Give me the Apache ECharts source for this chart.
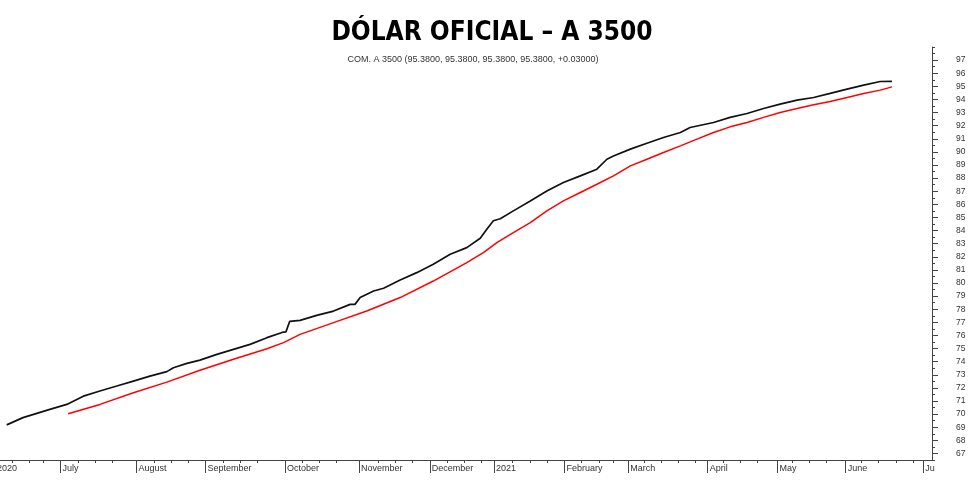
<!DOCTYPE html>
<html><head><meta charset="utf-8">
<script src="https://cdn.jsdelivr.net/npm/echarts@6/dist/echarts.min.js"></script>
<style>html,body{margin:0;padding:0;background:#fff}#c{width:980px;height:488px}</style>
</head><body><div id="c"></div>
<script>
const titleText = 'DÓLAR OFICIAL – A 3500';
const subText = 'COM. A 3500 (95.3800, 95.3800, 95.3800, 95.3800, +0.03000)';

// x axis unit: trading day counted from 1 June 2020
const monthTicks = [0, 19, 41, 61, 84, 105.5, 126, 144.6, 165, 183.5, 206.5, 226.7, 246.5, 269];
const monthLabels = ['2020', 'July', 'August', 'September', 'October', 'November', 'December', '2021', 'February', 'March', 'April', 'May', 'June', 'July'];
const weekTicks = [5, 10, 14, 24, 29, 34, 46, 51, 56, 66, 71, 76, 89, 94, 99, 111, 116, 121, 131, 136, 141, 150, 155, 160, 170, 175, 179, 188, 193, 198, 203, 211, 216, 221, 231, 236, 241, 251, 256, 261, 266];
const yTicks = [67, 68, 69, 70, 71, 72, 73, 74, 75, 76, 77, 78, 79, 80, 81, 82, 83, 84, 85, 86, 87, 88, 89, 90, 91, 92, 93, 94, 95, 96, 97];

const blackDays = [3.4, 8.1, 15.9, 20.8, 25.6, 30.4, 35.3, 40.1, 44.9, 49.8, 51.7, 55.6, 59.4, 64.3, 69.1, 73.9, 78.8, 83.6, 84.3, 85.4, 88.4, 93.2, 98.1, 102.9, 104.3, 105.8, 109.7, 112.6, 117.4, 122.2, 127.0, 131.9, 136.7, 140.6, 142.5, 144.4, 146.4, 150.2, 155.1, 159.9, 164.7, 169.6, 174.4, 177.3, 179.2, 184.1, 188.9, 193.7, 198.6, 201.4, 208.2, 213.0, 217.9, 222.7, 227.5, 232.4, 237.2, 242.0, 246.9, 251.7, 256.5, 259.9];
const blackVals = [69.18, 69.73, 70.36, 70.74, 71.37, 71.76, 72.14, 72.52, 72.90, 73.24, 73.54, 73.87, 74.12, 74.56, 74.94, 75.32, 75.83, 76.26, 76.27, 77.08, 77.15, 77.53, 77.86, 78.37, 78.37, 78.89, 79.39, 79.60, 80.23, 80.79, 81.43, 82.19, 82.70, 83.41, 84.10, 84.75, 84.90, 85.50, 86.26, 87.02, 87.66, 88.17, 88.68, 89.44, 89.69, 90.21, 90.66, 91.10, 91.48, 91.86, 92.24, 92.63, 92.93, 93.31, 93.64, 93.95, 94.15, 94.46, 94.79, 95.09, 95.37, 95.38];

const redDays = [21.2, 30.4, 40.1, 49.8, 59.4, 69.1, 78.8, 83.6, 88.4, 98.1, 107.7, 117.4, 127.0, 136.7, 141.5, 145.4, 150.2, 155.1, 159.9, 164.7, 169.6, 174.4, 179.2, 184.1, 188.9, 193.7, 198.6, 203.4, 208.2, 213.0, 217.9, 222.7, 227.5, 232.4, 237.2, 242.0, 246.9, 251.7, 256.5, 259.9];
const redVals = [70.03, 70.74, 71.63, 72.44, 73.34, 74.18, 74.99, 75.45, 76.08, 76.98, 77.86, 78.89, 80.15, 81.56, 82.32, 83.08, 83.85, 84.61, 85.50, 86.26, 86.90, 87.53, 88.17, 88.93, 89.44, 89.95, 90.46, 90.97, 91.48, 91.91, 92.24, 92.63, 93.01, 93.31, 93.59, 93.85, 94.15, 94.46, 94.71, 94.96];

const pairs = (xs, ys) => xs.map((x, i) => [x, ys[i]]);
const axisColor = '#444';
const labelFont = '"Liberation Sans", Arial, sans-serif';
const lastIdx = monthTicks.length - 1;
const labelFor = v => { const i = monthTicks.findIndex(m => Math.abs(m - v) < 1e-6); return i < 0 ? '' : monthLabels[i]; };

const chart = echarts.init(document.getElementById('c'), null, { renderer: 'canvas' });
chart.setOption({
  animation: false,
  backgroundColor: '#fff',
  title: [
    { text: titleText, left: 487, top: 15, textAlign: 'center',
      textStyle: { fontFamily: '"DejaVu Sans Condensed", "DejaVu Sans", sans-serif', fontWeight: 'bold', fontSize: 26, color: '#000' } },
    { text: subText, left: 468, top: 50, textAlign: 'center',
      textStyle: { fontFamily: labelFont, fontWeight: 'normal', fontSize: 9, color: '#333' } }
  ],
  grid: { left: -5, right: 48, top: 47, bottom: 28, outerBoundsMode: 'none', containLabel: false },
  xAxis: [
    { type: 'value', min: 0, max: 271.5, position: 'bottom',
      axisLine: { show: true, onZero: false, lineStyle: { color: axisColor, width: 1 } },
      splitLine: { show: false },
      axisTick: { show: true, customValues: monthTicks, length: 13, lineStyle: { color: axisColor } },
      axisLabel: { customValues: monthTicks.slice(0, lastIdx), align: 'left', margin: 4, padding: [0, 0, 0, 2],
        fontSize: 9, color: '#333', fontFamily: labelFont, formatter: labelFor, hideOverlap: false } },
    { type: 'value', min: 0, max: 271.5, position: 'bottom',
      axisLine: { show: false, onZero: false },
      splitLine: { show: false },
      axisLabel: { show: false },
      axisTick: { show: true, customValues: weekTicks, length: 3, lineStyle: { color: axisColor } } },
    { type: 'value', min: 0, max: 271.5, position: 'bottom',
      axisLine: { show: false, onZero: false },
      splitLine: { show: false },
      axisTick: { show: false },
      axisLabel: { customValues: [monthTicks[lastIdx]], align: 'left', margin: 4, padding: [0, 0, 0, 2],
        fontSize: 9, color: '#333', fontFamily: labelFont, formatter: labelFor,
        width: 12, overflow: 'truncate', ellipsis: '' } }
  ],
  yAxis: [
    { type: 'value', min: 66.5, max: 98, position: 'right',
      axisLine: { show: true, onZero: false, lineStyle: { color: axisColor, width: 1 } },
      splitLine: { show: false },
      axisTick: { show: true, customValues: yTicks, length: 6, lineStyle: { color: axisColor } },
      axisLabel: { customValues: yTicks, margin: 24, fontSize: 8.5, color: '#333', fontFamily: labelFont } },
    { type: 'value', min: 66.5, max: 98, interval: 0.5, position: 'right',
      axisLine: { show: false, onZero: false },
      splitLine: { show: false },
      axisLabel: { show: false },
      axisTick: { show: true, length: 3, lineStyle: { color: axisColor } } }
  ],
  series: [
    { type: 'line', name: 'A 3500', data: pairs(blackDays, blackVals), symbol: 'none',
      xAxisIndex: 0, yAxisIndex: 0, lineStyle: { color: '#111', width: 1.7 } },
    { type: 'line', name: 'Media', data: pairs(redDays, redVals), symbol: 'none',
      xAxisIndex: 0, yAxisIndex: 0, lineStyle: { color: '#ff0000', width: 1.5 } }
  ]
});
</script></body></html>
